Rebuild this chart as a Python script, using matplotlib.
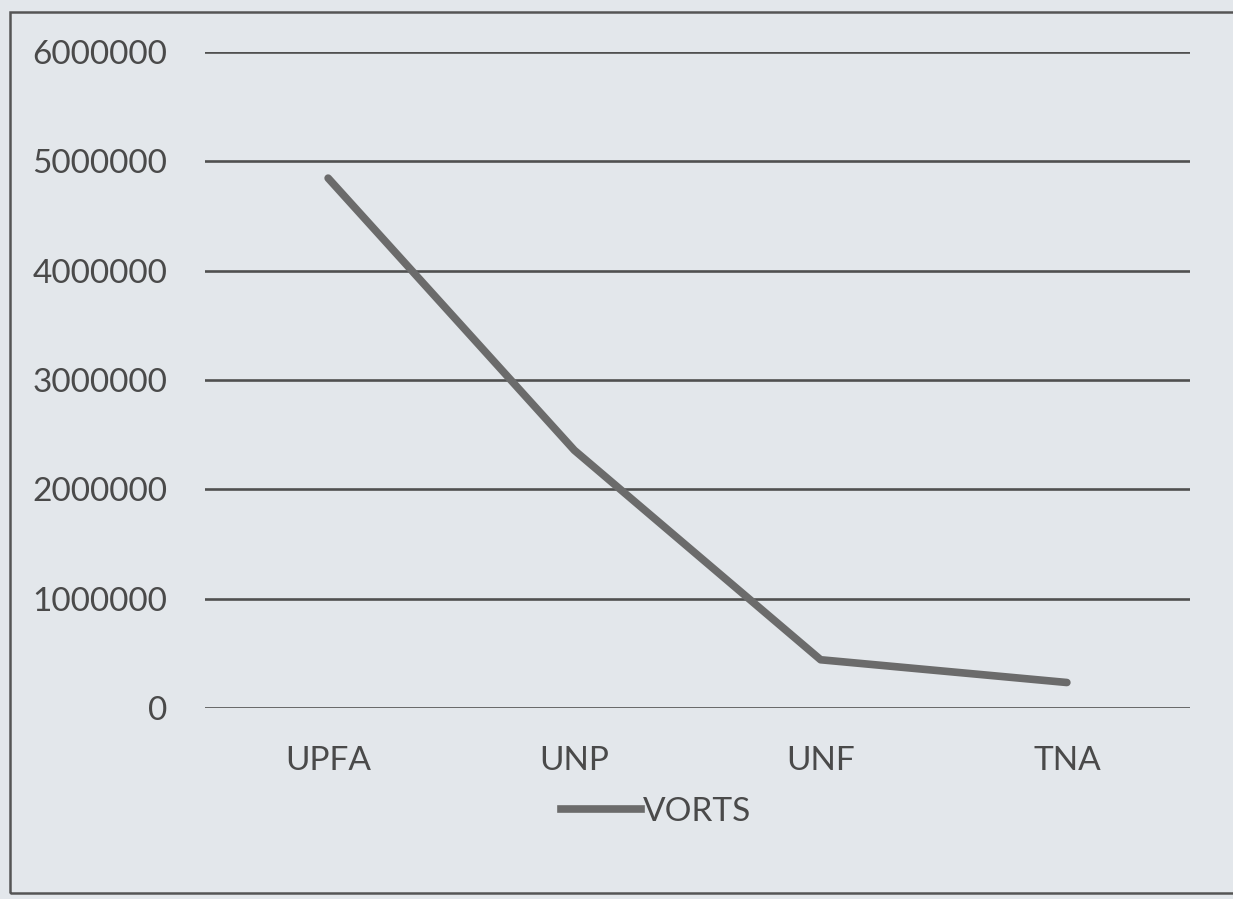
import matplotlib
matplotlib.use("Agg")
import matplotlib.pyplot as plt
from matplotlib.patches import Rectangle
from matplotlib.lines import Line2D

parties = ["UPFA", "UNP", "UNF", "TNA"]
votes = [4846388, 2357057, 441251, 233190]
yticks = [0, 1000000, 2000000, 3000000, 4000000, 5000000, 6000000]
series_name = "VORTS"

bg = "#e3e7eb"
txt = "#4a4a4a"
plt.rcParams['font.family'] = ['Lato', 'DejaVu Sans']

fig = plt.figure(figsize=(12.33, 8.99), dpi=100, facecolor=bg)
ax = fig.add_axes([205/1233, 1-708/899, 985/1233, (708-52)/899])
ax.set_facecolor(bg)
ax.set_xlim(-0.5, len(parties)-0.5)
ax.set_ylim(0, 6000000)
ax.set_yticks(yticks)
ax.set_yticklabels([str(v) for v in yticks])
ax.set_xticks(range(len(parties)))
ax.set_xticklabels(parties)
for v in yticks:
    ax.axhline(v, color="#505050", lw=1.9, zorder=1)
for s in ax.spines.values():
    s.set_visible(False)
ax.tick_params(length=0, labelsize=24, colors=txt, pad=0)
ax.tick_params(axis='y', pad=27)
ax.tick_params(axis='x', pad=27)
ax.plot(range(len(parties)), votes, color="#6b6b6b", lw=5.5, solid_capstyle='round', zorder=3)

handle = Line2D([], [], color="#6b6b6b", lw=5.5)
leg = fig.legend([handle], [series_name], loc='center', bbox_to_anchor=(656/1233, 1-812/899),
                 frameon=False, fontsize=24, handlelength=2.4, handletextpad=0.08, labelcolor=txt)

fig.add_artist(Rectangle((10/1233, 1-893/899), 1.2, (893-12)/899, transform=fig.transFigure,
                         fill=False, edgecolor="#555555", lw=1.8))
fig.savefig("out.png", dpi=100, facecolor=bg)
